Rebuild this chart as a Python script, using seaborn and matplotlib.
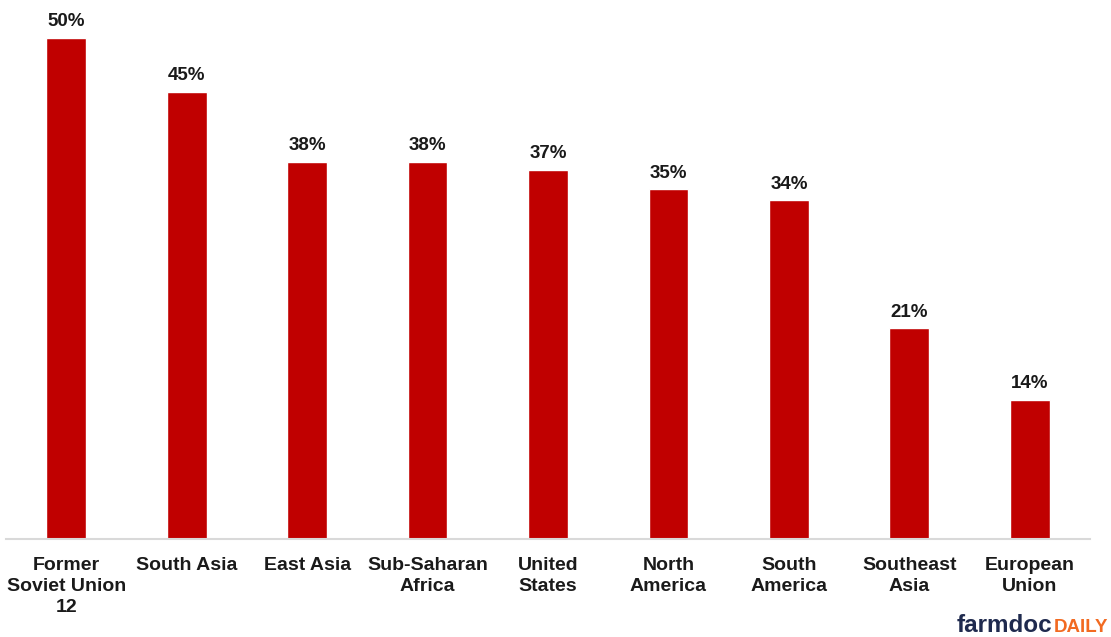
import matplotlib
matplotlib.use("Agg")
import matplotlib.pyplot as plt
import pandas as pd
import seaborn as sns

# Regions and shares (%)
regions = [
    "Former\nSoviet Union\n12", "South Asia", "East Asia", "Sub-Saharan\nAfrica",
    "United\nStates", "North\nAmerica", "South\nAmerica", "Southeast\nAsia",
    "European\nUnion",
]
shares = [50.0, 44.6, 37.6, 37.6, 36.8, 34.9, 33.8, 21.0, 13.9]

BAR_COLOR = "#c00000"

sns.set_theme(style="white")
plt.rcParams["font.family"] = ["Liberation Sans", "DejaVu Sans"]

df = pd.DataFrame({"Region": regions, "Share": shares})

fig = plt.figure(figsize=(11.11, 6.37), dpi=100)
ax = fig.add_axes([6 / 1111, 98 / 637, 1084 / 1111, 539 / 637])

sns.barplot(data=df, x="Region", y="Share", ax=ax, color=BAR_COLOR,
            width=0.33, saturation=1)

ax.set_xlim(-0.5, len(regions) - 0.5)
ax.set_ylim(0, 53.75)

for i, v in enumerate(shares):
    ax.text(i, v + 0.75, f"{v:.0f}%", ha="center", va="bottom",
            fontsize=13.5, fontweight="bold", color="#1a1a1a")

ax.set_xlabel("")
ax.set_ylabel("")
ax.set_yticks([])
ax.tick_params(axis="x", length=0, pad=13)
for lbl in ax.get_xticklabels():
    lbl.set_fontsize(14)
    lbl.set_fontweight("bold")
    lbl.set_color("#1a1a1a")
    lbl.set_linespacing(1.3)
    lbl.set_verticalalignment("top")

for side in ["top", "left", "right"]:
    ax.spines[side].set_visible(False)
ax.spines["bottom"].set_color("#d9d9d9")
ax.spines["bottom"].set_linewidth(1.5)

# farmdocDAILY watermark
t1 = fig.text(957 / 1111, 5 / 637, "farmdoc", fontsize=17.5, fontweight="bold",
              color="#1f2a4e", ha="left", va="baseline")
fig.canvas.draw()
bb = t1.get_window_extent()
fig.text((bb.x1 + 1) / 1111, 5 / 637, "DAILY", fontsize=13.5, fontweight="bold",
         color="#f26a21", ha="left", va="baseline")

fig.savefig("out.png", dpi=100)
